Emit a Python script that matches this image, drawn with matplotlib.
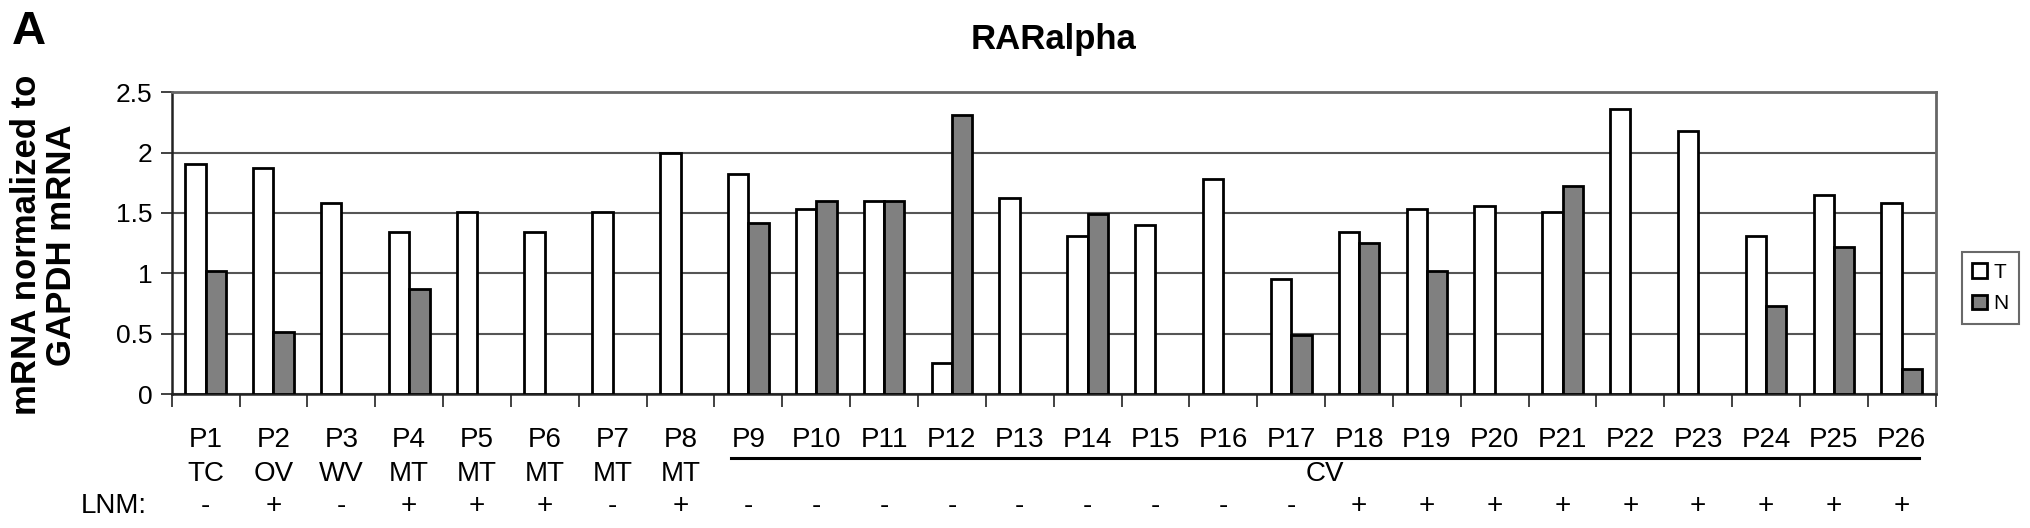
import numpy as np
import matplotlib
matplotlib.use("Agg")
import matplotlib.pyplot as plt
from matplotlib.transforms import blended_transform_factory
from matplotlib.lines import Line2D

plt.rcParams['font.family'] = ['Liberation Sans', 'DejaVu Sans']

# ---- data ----
patients = ["P%d" % i for i in range(1, 27)]
subtypes = ["TC", "OV", "WV", "MT", "MT", "MT", "MT", "MT"]
group_label = "CV"
lnm = ["-", "+", "-", "+", "+", "+", "-", "+",
       "-", "-", "-", "-", "-", "-", "-", "-", "-",
       "+", "+", "+", "+", "+", "+", "+", "+", "+"]
tumor = [1.91, 1.87, 1.58, 1.34, 1.51, 1.34, 1.51, 2.00,
         1.82, 1.53, 1.60, 0.26, 1.62, 1.31, 1.40, 1.78, 0.95,
         1.34, 1.53, 1.56, 1.51, 2.36, 2.18, 1.31, 1.65, 1.58]
normal = [1.02, 0.51, np.nan, 0.87, np.nan, np.nan, np.nan, np.nan,
          1.42, 1.60, 1.60, 2.31, np.nan, 1.49, np.nan, np.nan, 0.49,
          1.25, 1.02, np.nan, 1.72, np.nan, np.nan, 0.73, 1.22, 0.21]
yticks = [0, 0.5, 1, 1.5, 2, 2.5]
ytick_labels = ["0", "0.5", "1", "1.5", "2", "2.5"]

W, H = 2031, 528
fig = plt.figure(figsize=(W / 100, H / 100), dpi=100)
left, right, top, bottom = 171.7, 1935.7, 92.3, 394.0
ax = fig.add_axes([left / W, 1 - bottom / H, (right - left) / W, (bottom - top) / H])

x = np.arange(len(patients))
bw = 0.3
ax.bar(x - bw / 2, tumor, width=bw, color="white", edgecolor="black", linewidth=2.0, label="T", zorder=3)
ax.bar(x + bw / 2, normal, width=bw, color="#808080", edgecolor="black", linewidth=2.0, label="N", zorder=3)

ax.set_xlim(-0.5, len(patients) - 0.5)
ax.set_ylim(0, 2.5)
ax.set_yticks(yticks)
ax.set_yticklabels(ytick_labels, fontsize=19)
ax.yaxis.grid(True, color="#555555", linewidth=1.5, zorder=0)
ax.set_axisbelow(True)

# x ticks: labels at centers, marks at boundaries
ax.set_xticks(x)
ax.set_xticklabels(patients, fontsize=20)
ax.tick_params(axis="x", which="major", length=0, pad=23.5)
ax.set_xticks(np.arange(-0.5, len(patients)), minor=True)
ax.tick_params(axis="x", which="minor", length=9, width=1.3, color="#333333", direction="out")
ax.tick_params(axis="y", length=8, width=1.3, color="#333333", pad=6)

for s in ["left", "bottom"]:
    ax.spines[s].set_color("#222222")
    ax.spines[s].set_linewidth(1.8)
for s in ["top", "right"]:
    ax.spines[s].set_color("#666666")
    ax.spines[s].set_linewidth(2.0)

ax.set_title("RARalpha", fontsize=25, fontweight="bold", pad=31)

fig.text(44 / W, 1 - 245 / H, "mRNA normalized to\nGAPDH mRNA", rotation=90,
         fontsize=25, fontweight="bold", ha="center", va="center", linespacing=1.1)
fig.text(12 / W, 1 - 32 / H, "A", fontsize=34, fontweight="bold", ha="left", va="center")

tr = blended_transform_factory(ax.transData, fig.transFigure)
for i, s in enumerate(subtypes):
    ax.text(i, 1 - 474 / H, s, transform=tr, fontsize=20, ha="center", va="center")
ax.text(16.5, 1 - 474 / H, group_label, transform=tr, fontsize=20, ha="center", va="center")
fig.add_artist(Line2D([7.75, 25.25], [1 - 458 / H] * 2, transform=tr, color="black", linewidth=2.2))

fig.text(114 / W, 1 - 506 / H, "LNM:", fontsize=20, ha="center", va="center")
for i, s in enumerate(lnm):
    ax.text(i, 1 - 506 / H, s, transform=tr, fontsize=20, ha="center", va="center")

leg = ax.legend(loc="center left", bbox_to_anchor=(1962 / W, 1 - 288 / H), bbox_transform=fig.transFigure,
                fontsize=15, frameon=True, fancybox=False, edgecolor="#444444",
                handlelength=0.7, handleheight=0.7, handletextpad=0.3, borderpad=0.5,
                labelspacing=0.6, borderaxespad=0)
leg.get_frame().set_linewidth(1.5)

fig.savefig("out.png", dpi=100)
